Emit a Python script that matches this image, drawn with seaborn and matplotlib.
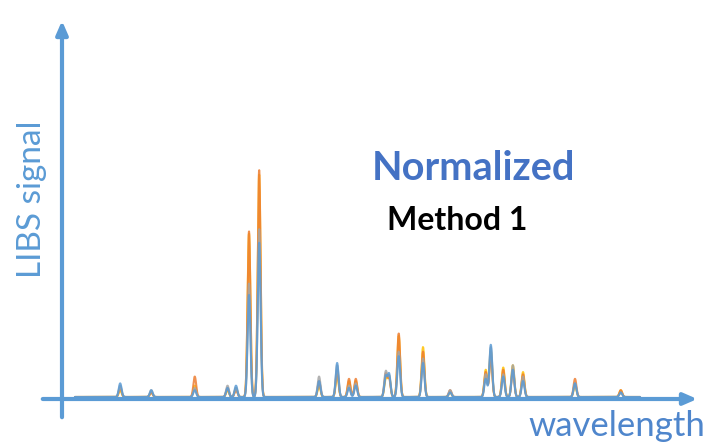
import numpy as np
import pandas as pd
import seaborn as sns
import matplotlib.pyplot as plt

# peak positions (arbitrary wavelength units) and heights per spectrum
peak_pos = [8.0, 13.5, 21.2, 27.0, 28.5, 30.8, 32.6, 43.2, 46.4, 48.5, 49.7, 55.0, 55.6,
            57.3, 61.6, 66.4, 72.7, 73.6, 75.8, 77.5, 79.3, 88.5, 96.6]
h_yellow = [0.03, 0.02, 0.05, 0.03, 0.04, 0.72, 0.98, 0.05, 0.10, 0.07, 0.07, 0.08, 0.09,
            0.27, 0.22, 0.02, 0.12, 0.20, 0.13, 0.14, 0.11, 0.05, 0.03]
h_orange = [0.04, 0.02, 0.09, 0.04, 0.03, 0.73, 1.00, 0.07, 0.12, 0.08, 0.08, 0.10, 0.08,
            0.28, 0.20, 0.03, 0.11, 0.18, 0.12, 0.12, 0.10, 0.08, 0.03]
h_gray = [0.05, 0.03, 0.04, 0.05, 0.04, 0.50, 0.74, 0.09, 0.14, 0.05, 0.06, 0.11, 0.09,
          0.20, 0.17, 0.03, 0.10, 0.22, 0.10, 0.14, 0.09, 0.06, 0.02]
h_blue = [0.06, 0.03, 0.03, 0.04, 0.05, 0.45, 0.68, 0.07, 0.15, 0.04, 0.05, 0.09, 0.10,
          0.18, 0.15, 0.02, 0.08, 0.23, 0.09, 0.12, 0.07, 0.06, 0.02]
series = {'Spectrum 1': h_yellow, 'Spectrum 2': h_orange, 'Spectrum 3': h_gray, 'Spectrum 4': h_blue}
colors = ['#FFC000', '#ED7D31', '#A5A5A5', '#5B9BD5']

wl = np.linspace(0, 100, 3000)
rows = []
for name, heights in series.items():
    sig = np.zeros_like(wl)
    for p, h in zip(peak_pos, heights):
        sig += h * np.exp(-0.5 * ((wl - p) / 0.25) ** 2)
    rows.append(pd.DataFrame({'wavelength': wl, 'signal': sig, 'spectrum': name}))
df = pd.concat(rows)

sns.set_style('white')
plt.rcParams['font.family'] = ['Lato', 'DejaVu Sans']

fig = plt.figure(figsize=(7.11, 4.48), dpi=100)
ax = fig.add_axes([0, 0, 1, 1])
sns.lineplot(data=df, x='wavelength', y='signal', hue='spectrum', palette=colors,
             linewidth=1.5, alpha=0.85, legend=False, ax=ax)
ax.set_xlim(-13.27, 112.57)
ax.set_ylim(-0.2247, 1.749)
ax.axis('off')

# arrows for the axes
def fp(x, y):
    return (x / 711, 1 - y / 448)

arrow = dict(arrowstyle='-|>,head_length=0.8,head_width=0.35', color='#5B9BD5', lw=3)
ax.annotate('', xy=fp(700, 399), xytext=fp(40, 399), xycoords='figure fraction',
            textcoords='figure fraction', arrowprops=arrow)
ax.annotate('', xy=fp(62, 18), xytext=fp(62, 420), xycoords='figure fraction',
            textcoords='figure fraction', arrowprops=arrow)

fig.text(*fp(32, 199), 'LIBS signal', rotation=90, ha='center', va='center',
         fontsize=24, color='#5B9BD5')
fig.text(*fp(617, 426), 'wavelength', ha='center', va='center',
         fontsize=25, color='#4F86CC')
fig.text(*fp(473, 168), 'Normalized', ha='center', va='center',
         fontsize=28.5, fontweight='bold', color='#4472C4')
fig.text(*fp(457, 220), 'Method 1', ha='center', va='center',
         fontsize=23, fontweight='bold', color='black')

plt.savefig('out.png', dpi=100)
